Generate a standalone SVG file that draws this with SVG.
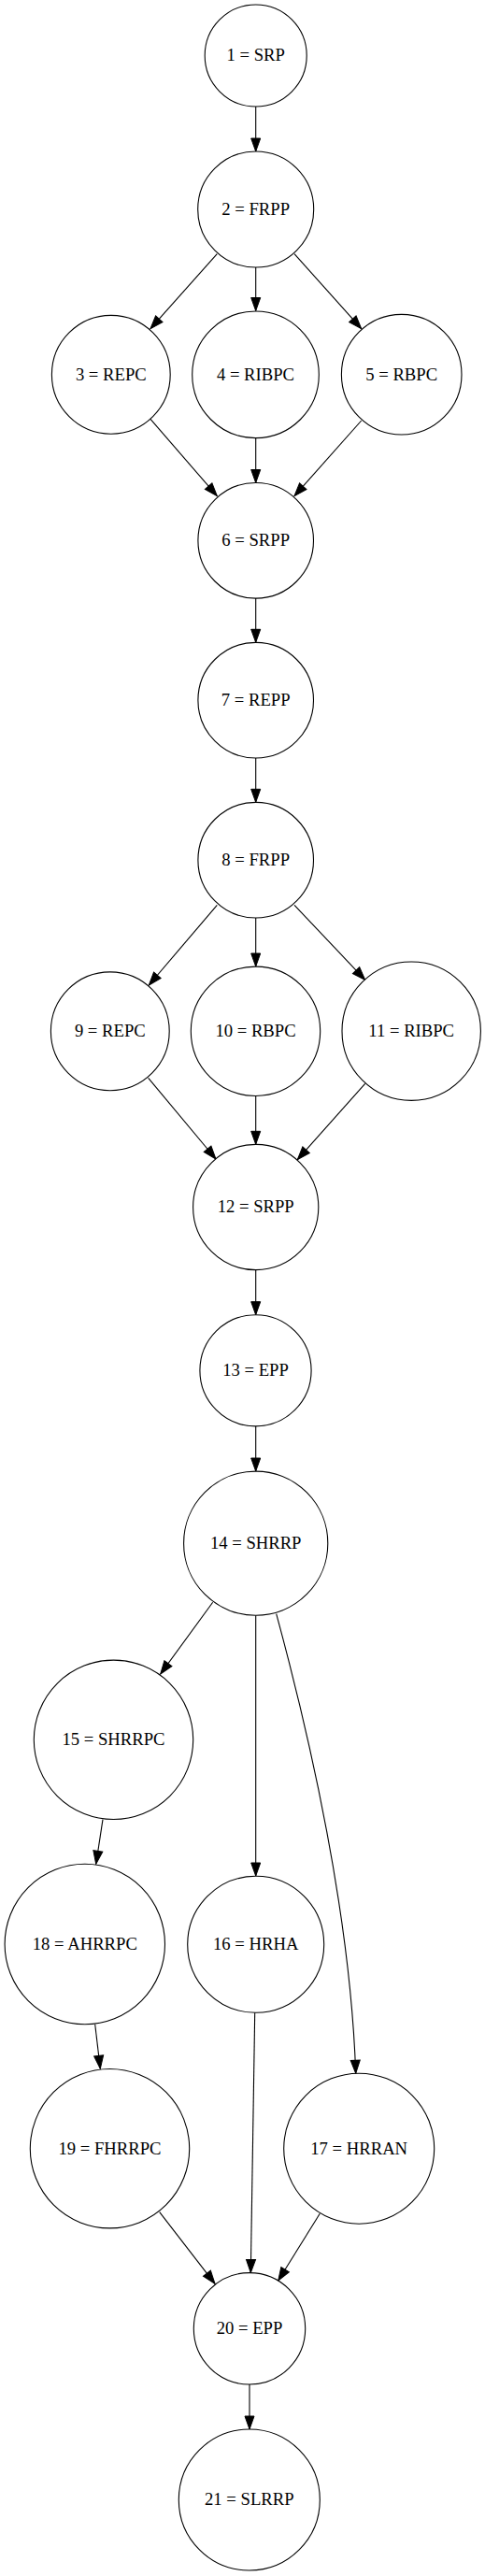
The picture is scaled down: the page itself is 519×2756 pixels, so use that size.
<svg xmlns="http://www.w3.org/2000/svg" width="519" height="2756" viewBox="0 0 519 2756">
<style>
.n circle{fill:#fff;stroke:#000;stroke-width:1.1}
.n text{font-family:"Liberation Serif","Times New Roman",serif;font-size:18.67px;text-anchor:middle;fill:#000}
.e path{fill:none;stroke:#000;stroke-width:1.1;marker-end:url(#ah)}
</style>
<defs>
<marker id="ah" markerUnits="userSpaceOnUse" viewBox="-1 -1 16 12" refX="14" refY="5" markerWidth="16" markerHeight="12" orient="auto">
<path d="M0,0 L14,5 L0,10 Z" fill="#000" stroke="#000" stroke-width="1"/>
</marker>
</defs>
<rect width="519" height="2756" fill="#fff"/>
<g id="edges" class="e">
<path d="M273.7,114 L273.7,162"/>
<path d="M232.3,271.7 L161,351.7"/>
<path d="M273.7,285.7 L273.7,332.5"/>
<path d="M315,271.7 L386.7,351.7"/>
<path d="M161,448.3 L232.3,530.7"/>
<path d="M273.7,469 L273.7,516.5"/>
<path d="M386.7,450 L315,530.7"/>
<path d="M273.7,640 L273.7,687.3"/>
<path d="M273.7,811 L273.7,858.3"/>
<path d="M232.3,968.3 L159.3,1054"/>
<path d="M273.7,982 L273.7,1034"/>
<path d="M315,968.3 L390.7,1048.3"/>
<path d="M158.7,1153.3 L231,1240"/>
<path d="M273.7,1172.7 L273.7,1224.3"/>
<path d="M390.7,1159.3 L318.3,1240.7"/>
<path d="M273.7,1358.7 L273.7,1406.7"/>
<path d="M273.7,1526 L273.7,1574"/>
<path d="M227.7,1714.3 L171.7,1791"/>
<path d="M273.7,1728.3 L273.7,2007"/>
<path d="M295.7,1726.7 C332,1860 375,2050 380.7,2218.3"/>
<path d="M110,1946.7 L102.7,1994.3"/>
<path d="M101.7,2165.7 L107.3,2213.3"/>
<path d="M272.7,2153.3 L268.3,2431.5"/>
<path d="M170.7,2366.7 L230,2443.3"/>
<path d="M342.3,2368.3 L297.7,2440"/>
<path d="M267,2551 L267,2599"/>
</g>
<g id="n1" class="n"><circle cx="273.7" cy="59.5" r="54.5"/><text x="273.7" y="65.3">1 = SRP</text></g>
<g id="n2" class="n"><circle cx="273.7" cy="224" r="62"/><text x="273.7" y="229.8">2 = FRPP</text></g>
<g id="n3" class="n"><circle cx="118.8" cy="400.8" r="63.4"/><text x="118.8" y="406.6">3 = REPC</text></g>
<g id="n4" class="n"><circle cx="273.5" cy="400.8" r="67.8"/><text x="273.5" y="406.6">4 = RIBPC</text></g>
<g id="n5" class="n"><circle cx="429.7" cy="400.7" r="64.3"/><text x="429.7" y="406.5">5 = RBPC</text></g>
<g id="n6" class="n"><circle cx="273.7" cy="578.3" r="61.8"/><text x="273.7" y="584.1">6 = SRPP</text></g>
<g id="n7" class="n"><circle cx="273.7" cy="749.2" r="61.8"/><text x="273.7" y="755">7 = REPP</text></g>
<g id="n8" class="n"><circle cx="273.7" cy="920.2" r="61.8"/><text x="273.7" y="926">8 = FRPP</text></g>
<g id="n9" class="n"><circle cx="117.8" cy="1103.3" r="63.4"/><text x="117.8" y="1109.1">9 = REPC</text></g>
<g id="n10" class="n"><circle cx="273.5" cy="1103.3" r="69.2"/><text x="273.5" y="1109.1">10 = RBPC</text></g>
<g id="n11" class="n"><circle cx="440.2" cy="1103.2" r="74.2"/><text x="440.2" y="1109">11 = RIBPC</text></g>
<g id="n12" class="n"><circle cx="273.7" cy="1291.5" r="67.1"/><text x="273.7" y="1297.3">12 = SRPP</text></g>
<g id="n13" class="n"><circle cx="273.5" cy="1466.3" r="59.6"/><text x="273.5" y="1472.1">13 = EPP</text></g>
<g id="n14" class="n"><circle cx="273.7" cy="1651.2" r="77.1"/><text x="273.7" y="1657">14 = SHRRP</text></g>
<g id="n15" class="n"><circle cx="121.5" cy="1861.3" r="85.2"/><text x="121.5" y="1867.1">15 = SHRRPC</text></g>
<g id="n16" class="n"><circle cx="273.7" cy="2080.3" r="73"/><text x="273.7" y="2086.1">16 = HRHA</text></g>
<g id="n17" class="n"><circle cx="384.2" cy="2298.7" r="80.5"/><text x="384.2" y="2304.5">17 = HRRAN</text></g>
<g id="n18" class="n"><circle cx="90.8" cy="2080" r="85.7"/><text x="90.8" y="2085.8">18 = AHRRPC</text></g>
<g id="n19" class="n"><circle cx="117.5" cy="2298.7" r="85.2"/><text x="117.5" y="2304.5">19 = FHRRPC</text></g>
<g id="n20" class="n"><circle cx="267" cy="2491.3" r="59.7"/><text x="267" y="2497.1">20 = EPP</text></g>
<g id="n21" class="n"><circle cx="266.8" cy="2674.5" r="75.5"/><text x="266.8" y="2680.3">21 = SLRRP</text></g>
</svg>
